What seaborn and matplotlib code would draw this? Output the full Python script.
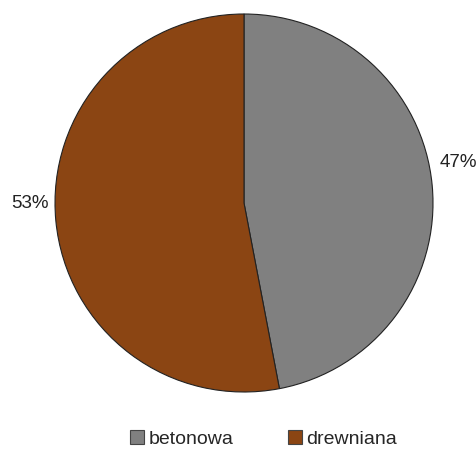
import matplotlib
matplotlib.use("Agg")
import matplotlib.pyplot as plt
import seaborn as sns
from matplotlib.patches import Patch

categories = ["betonowa", "drewniana"]
values = [47, 53]
colors = ["#808080", "#8B4513"]

sns.set_theme(style="white")
plt.rcParams['font.family'] = ['Liberation Sans', 'DejaVu Sans']

fig = plt.figure(figsize=(4.76, 4.5), dpi=100)
cx, cy, r = 244 / 476, 1 - 203 / 450, 189
ax = fig.add_axes([cx - r / 476, cy - r / 450, 2 * r / 476, 2 * r / 450])

wedges, texts, autotexts = ax.pie(
    values, colors=sns.color_palette(colors), startangle=90, counterclock=False,
    autopct=lambda p: f"{p:.0f}%", pctdistance=1.14,
    wedgeprops=dict(edgecolor="#222222", linewidth=0.8),
    textprops=dict(fontsize=13.5, color="#222222"))
for t in autotexts:
    x, y = t.get_position()
    t.set_position((x, y + 0.105))
ax.set_aspect("equal")
ax.set_xlim(-1, 1)
ax.set_ylim(-1, 1)
ax.axis("off")

handles = [Patch(facecolor=c, edgecolor="#444444", linewidth=0.8) for c in colors]
fig.legend(handles, categories, loc="center", bbox_to_anchor=(0.553, 1 - 439 / 450),
           ncol=2, frameon=False, fontsize=14, handlelength=0.75, handleheight=0.75,
           columnspacing=2.8, handletextpad=0.2)

fig.savefig("out.png", dpi=100)
